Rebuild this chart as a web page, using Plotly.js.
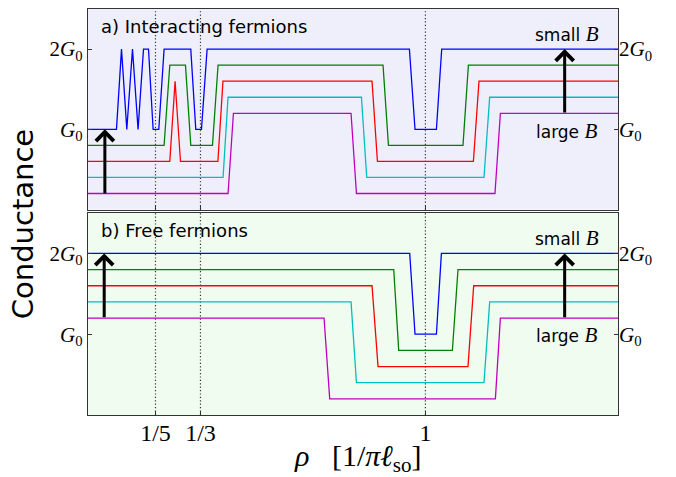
<!DOCTYPE html>
<html><head><meta charset="utf-8">
<script src="https://cdn.plot.ly/plotly-3.0.1.min.js"></script>
<style>html,body{margin:0;padding:0;background:#fff}</style>
</head><body>
<div id="chart" style="width:676px;height:477px"></div>
<script>
// ---- data (rho in units of 1/(pi l_so), conductance in units of G0, curves offset by field) ----
const seriesColors = ['#0000ff', '#008000', '#ff0000', '#00bfbf', '#bf00bf'];

// a) Interacting fermions
const intBlueX = [0, 0.0844, 0.0993, 0.1150, 0.1319, 0.1484, 0.1645, 0.1793, 0.1930, 0.2098, 0.2255, 0.3046, 0.3194, 0.3363, 0.3530, 0.9526, 0.9692, 1.0326, 1.0483, 1.5708];
const intBlueY = [1, 1, 2, 1, 2, 1, 2, 2, 1, 1, 2, 2, 1, 1, 2, 2, 1, 1, 2, 2];
const intGreenX = [0, 0.2255, 0.2424, 0.2889, 0.3046, 0.3689, 0.3855, 0.8744, 0.8904, 1.1114, 1.1274, 1.5708];
const intGreenY = [0.8, 0.8, 1.8, 1.8, 0.8, 0.8, 1.8, 1.8, 0.8, 0.8, 1.8, 1.8];
const intRedX = [0, 0.2424, 0.2581, 0.2741, 0.3850, 0.4000, 0.8418, 0.8578, 1.1422, 1.1588, 1.5708];
const intRedY = [0.6, 0.6, 1.6, 0.6, 0.6, 1.6, 1.6, 0.6, 0.6, 1.6, 1.6];
const intCyanX = [0, 0.4003, 0.4151, 0.8104, 0.8261, 1.1736, 1.1905, 1.5708];
const intCyanY = [0.4, 0.4, 1.4, 1.4, 0.4, 0.4, 1.4, 1.4];
const intMagentaX = [0, 0.4151, 0.4310, 0.7796, 0.7956, 1.2062, 1.2222, 1.5708];
const intMagentaY = [0.2, 0.2, 1.2, 1.2, 0.2, 0.2, 1.2, 1.2];

// b) Free fermions
const freeBlueX = [0, 0.9535, 0.9692, 1.0326, 1.0474, 1.5708];
const freeBlueY = [2, 2, 1, 1, 2, 2];
const freeGreenX = [0, 0.9061, 0.9209, 1.0800, 1.0966, 1.5708];
const freeGreenY = [1.8, 1.8, 0.8, 0.8, 1.8, 1.8];
const freeRedX = [0, 0.8418, 0.8596, 1.1262, 1.1431, 1.5708];
const freeRedY = [1.6, 1.6, 0.6, 0.6, 1.6, 1.6];
const freeCyanX = [0, 0.7796, 0.7956, 1.1736, 1.1905, 1.5708];
const freeCyanY = [1.4, 1.4, 0.4, 0.4, 1.4, 1.4];
const freeMagentaX = [0, 0.6996, 0.7164, 1.2074, 1.2222, 1.5708];
const freeMagentaY = [1.2, 1.2, 0.2, 0.2, 1.2, 1.2];

const xTickVals = [1/5, 1/3, 1];
const xTickText = ['1/5', '1/3', '1'];
const yTickVals = [1, 2];
const yTickText = ['<i>G</i><sub>0</sub>', '2<i>G</i><sub>0</sub>'];
const xRange = [0, Math.PI / 2];
const yRange = [0, 2.5];

// ---- traces ----
const intSets = [[intBlueX, intBlueY], [intGreenX, intGreenY], [intRedX, intRedY], [intCyanX, intCyanY], [intMagentaX, intMagentaY]];
const freeSets = [[freeBlueX, freeBlueY], [freeGreenX, freeGreenY], [freeRedX, freeRedY], [freeCyanX, freeCyanY], [freeMagentaX, freeMagentaY]];
const traces = [];
intSets.forEach((s, i) => traces.push({x: s[0], y: s[1], xaxis: 'x', yaxis: 'y', mode: 'lines',
  line: {color: seriesColors[i], width: 1.3}, showlegend: false, hoverinfo: 'skip'}));
freeSets.forEach((s, i) => traces.push({x: s[0], y: s[1], xaxis: 'x2', yaxis: 'y2', mode: 'lines',
  line: {color: seriesColors[i], width: 1.3}, showlegend: false, hoverinfo: 'skip'}));
// empty traces so the right-hand tick-label axes exist
traces.push({x: [], y: [], xaxis: 'x', yaxis: 'y3', showlegend: false});
traces.push({x: [], y: [], xaxis: 'x2', yaxis: 'y4', showlegend: false});

const serif = 'Liberation Serif, Times New Roman, serif';
const sans = 'DejaVu Sans, sans-serif';
const axisColor = '#333333';

function yax(domain, extra) {
  return Object.assign({domain: domain, range: yRange, tickvals: yTickVals, ticktext: yTickText,
    ticks: 'inside', ticklen: 4, tickwidth: 1, tickcolor: axisColor,
    showline: true, linecolor: axisColor, linewidth: 1.3, mirror: true,
    showgrid: false, zeroline: false, fixedrange: true,
    tickfont: {family: serif, size: 21, color: '#000'}}, extra || {});
}
function xax(anchor, labels) {
  return {anchor: anchor, range: xRange, tickvals: xTickVals, ticktext: xTickText,
    ticks: 'inside', ticklen: 4, tickwidth: 1, tickcolor: axisColor,
    showticklabels: labels, showline: true, linecolor: axisColor, linewidth: 1.3, mirror: true,
    showgrid: false, zeroline: false, fixedrange: true, ticklabelstandoff: -4,
    tickfont: {family: serif, size: 24, color: '#000'}};
}

const topDom = [0.506, 1];
const botDom = [0, 0.4975];

const dotLine = {color: '#333', width: 1.2, dash: '1.2px,2.2px'};
const shapes = [
  {type: 'rect', xref: 'x domain', yref: 'y domain', x0: 0, x1: 1, y0: 0, y1: 1, fillcolor: '#efeffc', line: {width: 0}, layer: 'below'},
  {type: 'rect', xref: 'x2 domain', yref: 'y2 domain', x0: 0, x1: 1, y0: 0, y1: 1, fillcolor: '#f0fcf0', line: {width: 0}, layer: 'below'}
];
xTickVals.forEach(v => {
  shapes.push({type: 'line', xref: 'x', yref: 'y domain', x0: v, x1: v, y0: 0, y1: 1, line: dotLine, layer: 'below'});
  shapes.push({type: 'line', xref: 'x2', yref: 'y2 domain', x0: v, x1: v, y0: 0, y1: 1, line: dotLine, layer: 'below'});
});

function arrow(xr, yr, x, y0, y1) {
  return {xref: xr, yref: yr, axref: xr, ayref: yr, x: x, y: y1, ax: x, ay: y0, text: '',
    showarrow: true, arrowhead: 4, arrowsize: 1.15, arrowwidth: 3, arrowcolor: '#000', standoff: 0, startstandoff: 0};
}
const Bspan = '<span style="font-family:Liberation Serif, serif;font-style:italic;font-size:21px">B</span>';
const annotations = [
  {xref: 'x domain', yref: 'y domain', x: 0.02, y: 0.912, xanchor: 'left', yanchor: 'middle', showarrow: false,
   text: 'a) Interacting fermions', font: {family: sans, size: 18, color: '#000'}},
  {xref: 'x2 domain', yref: 'y2 domain', x: 0.02, y: 0.911, xanchor: 'left', yanchor: 'middle', showarrow: false,
   text: 'b) Free fermions', font: {family: sans, size: 18, color: '#000'}},
  {xref: 'x', yref: 'y', x: 1.4187, y: 2.183, xanchor: 'center', yanchor: 'middle', showarrow: false,
   text: 'small ' + Bspan, font: {family: sans, size: 17, color: '#000'}},
  {xref: 'x', yref: 'y', x: 1.4187, y: 0.983, xanchor: 'center', yanchor: 'middle', showarrow: false,
   text: 'large ' + Bspan, font: {family: sans, size: 17, color: '#000'}},
  {xref: 'x2', yref: 'y2', x: 1.4187, y: 2.187, xanchor: 'center', yanchor: 'middle', showarrow: false,
   text: 'small ' + Bspan, font: {family: sans, size: 17, color: '#000'}},
  {xref: 'x2', yref: 'y2', x: 1.4187, y: 0.99, xanchor: 'center', yanchor: 'middle', showarrow: false,
   text: 'large ' + Bspan, font: {family: sans, size: 17, color: '#000'}},
  arrow('x', 'y', 0.05, 0.18, 1.0),
  arrow('x', 'y', 1.4127, 1.19, 2.0),
  arrow('x2', 'y2', 0.048, 1.19, 2.0),
  arrow('x2', 'y2', 1.4127, 1.19, 2.0),
  {xref: 'paper', yref: 'paper', x: -0.1226, y: 0.47, xanchor: 'center', yanchor: 'middle', showarrow: false,
   textangle: -90, text: 'Conductance', font: {family: sans, size: 29, color: '#000'}},
  {xref: 'paper', yref: 'paper', x: 0.508, y: -0.106, xanchor: 'center', yanchor: 'middle', showarrow: false,
   text: '<i>ρ</i>\u00a0\u00a0\u00a0[1/<i>π</i><i>ℓ</i><sub>so</sub>]', font: {family: serif, size: 30, color: '#000'}}
];

const layout = {
  width: 676, height: 477,
  margin: {l: 88, r: 58, t: 9, b: 62, pad: 0},
  paper_bgcolor: '#ffffff', plot_bgcolor: 'rgba(0,0,0,0)',
  showlegend: false,
  xaxis: xax('y', false),
  xaxis2: Object.assign(xax('y2', true), {matches: 'x'}),
  yaxis: yax(topDom, {anchor: 'x'}),
  yaxis2: yax(botDom, {anchor: 'x2'}),
  yaxis3: yax(topDom, {overlaying: 'y', side: 'right', anchor: 'x', showline: false, mirror: false}),
  yaxis4: yax(botDom, {overlaying: 'y2', side: 'right', anchor: 'x2', showline: false, mirror: false}),
  shapes: shapes,
  annotations: annotations
};

Plotly.newPlot('chart', traces, layout, {staticPlot: true, displayModeBar: false});
</script>
</body></html>
